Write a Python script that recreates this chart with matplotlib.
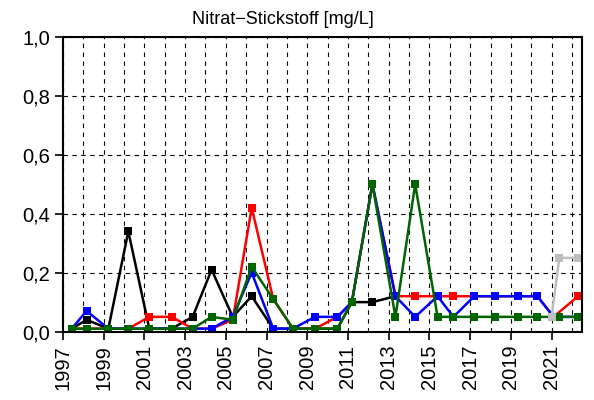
import matplotlib
matplotlib.use("Agg")
import matplotlib.pyplot as plt
from matplotlib.ticker import MultipleLocator, FixedLocator
import numpy as np

plt.rcParams['font.family'] = ['Liberation Sans', 'DejaVu Sans']

# sampling dates (decimal years)
dates = [1997.43, 1998.16, 1999.23, 2000.21, 2001.24, 2002.34, 2003.37, 2004.3,
         2005.34, 2006.27, 2007.33, 2008.3, 2009.38, 2010.48, 2011.19, 2012.2,
         2013.33, 2014.3, 2015.4, 2016.18, 2017.2, 2018.23, 2019.37, 2020.3,
         2021.1, 2021.38, 2022.3]
nan = np.nan

black = [0.01, 0.04, 0.01, 0.34, 0.01, 0.01, 0.05, 0.21,
         0.05, 0.12, 0.01, 0.01, 0.01, 0.01, 0.10, 0.10,
         0.12, nan, nan, nan, nan, nan, nan, nan,
         nan, nan, nan]
red = [0.01, 0.01, 0.01, 0.01, 0.05, 0.05, 0.01, 0.01,
       0.04, 0.42, 0.11, 0.01, 0.01, 0.05, 0.10, 0.50,
       0.12, 0.12, 0.12, 0.12, 0.12, 0.12, 0.12, 0.12,
       0.05, nan, 0.12]
blue = [0.01, 0.07, 0.01, 0.01, 0.01, 0.01, 0.01, 0.01,
        0.05, 0.20, 0.01, 0.01, 0.05, 0.05, 0.10, 0.50,
        0.12, 0.05, 0.12, 0.05, 0.12, 0.12, 0.12, 0.12,
        0.05, 0.05, 0.05]
green = [0.01, 0.01, 0.01, 0.01, 0.01, 0.01, 0.01, 0.05,
         0.04, 0.22, 0.11, 0.01, 0.01, 0.01, 0.10, 0.50,
         0.05, 0.50, 0.05, 0.05, 0.05, 0.05, 0.05, 0.05,
         nan, 0.05, 0.05]
grey_dates = [2021.0, 2021.38, 2022.3]
grey = [0.05, 0.25, 0.25]

series = [(black, 'black'), (red, '#FF0000'), (blue, '#0000FF'), (green, '#006400')]

ytick_vals = [0.0, 0.2, 0.4, 0.6, 0.8, 1.0]
ytick_labels = ['0,0', '0,2', '0,4', '0,6', '0,8', '1,0']
xtick_years = list(range(1997, 2022, 2))

fig = plt.figure(figsize=(5.94, 4.0), dpi=100)
ax = fig.add_axes([0.106, 0.171, 0.874, 0.737])

for vals, col in series:
    d = np.array(dates)
    v = np.array(vals)
    m = ~np.isnan(v)
    ax.plot(d[m], v[m], color=col, lw=1.8, marker='s', markersize=5.8,
            markeredgewidth=0, solid_joinstyle='miter')
ax.plot(grey_dates, grey, color='#BEBEBE', lw=1.8, marker='s', markersize=5.8,
        markeredgewidth=0)

ax.set_xlim(1997, 2022.5)
ax.set_ylim(0, 1.0)
ax.xaxis.set_major_locator(FixedLocator(xtick_years))
ax.xaxis.set_minor_locator(MultipleLocator(1))
ax.set_xticks(xtick_years)
ax.set_xticklabels([str(y) for y in xtick_years], rotation=90, fontsize=14.5)
ax.set_yticks(ytick_vals)
ax.set_yticklabels(ytick_labels, fontsize=14.5)
ax.tick_params(axis='both', which='major', length=6, width=1.2, direction='out', color='black')
ax.tick_params(axis='x', which='minor', length=0)

ax.grid(True, axis='x', which='both', color='black', linestyle=(0, (4, 4)), linewidth=0.8)
ax.grid(True, axis='y', which='major', color='black', linestyle=(0, (4, 4)), linewidth=0.8)
ax.set_axisbelow(True)

for s in ax.spines.values():
    s.set_linewidth(1.5)
    s.set_color('black')

fig.text(283 / 594, 1 - 19 / 400, 'Nitrat\u2212Stickstoff [mg/L]', ha='center', va='center', fontsize=13)

fig.savefig('out.png', dpi=100)
